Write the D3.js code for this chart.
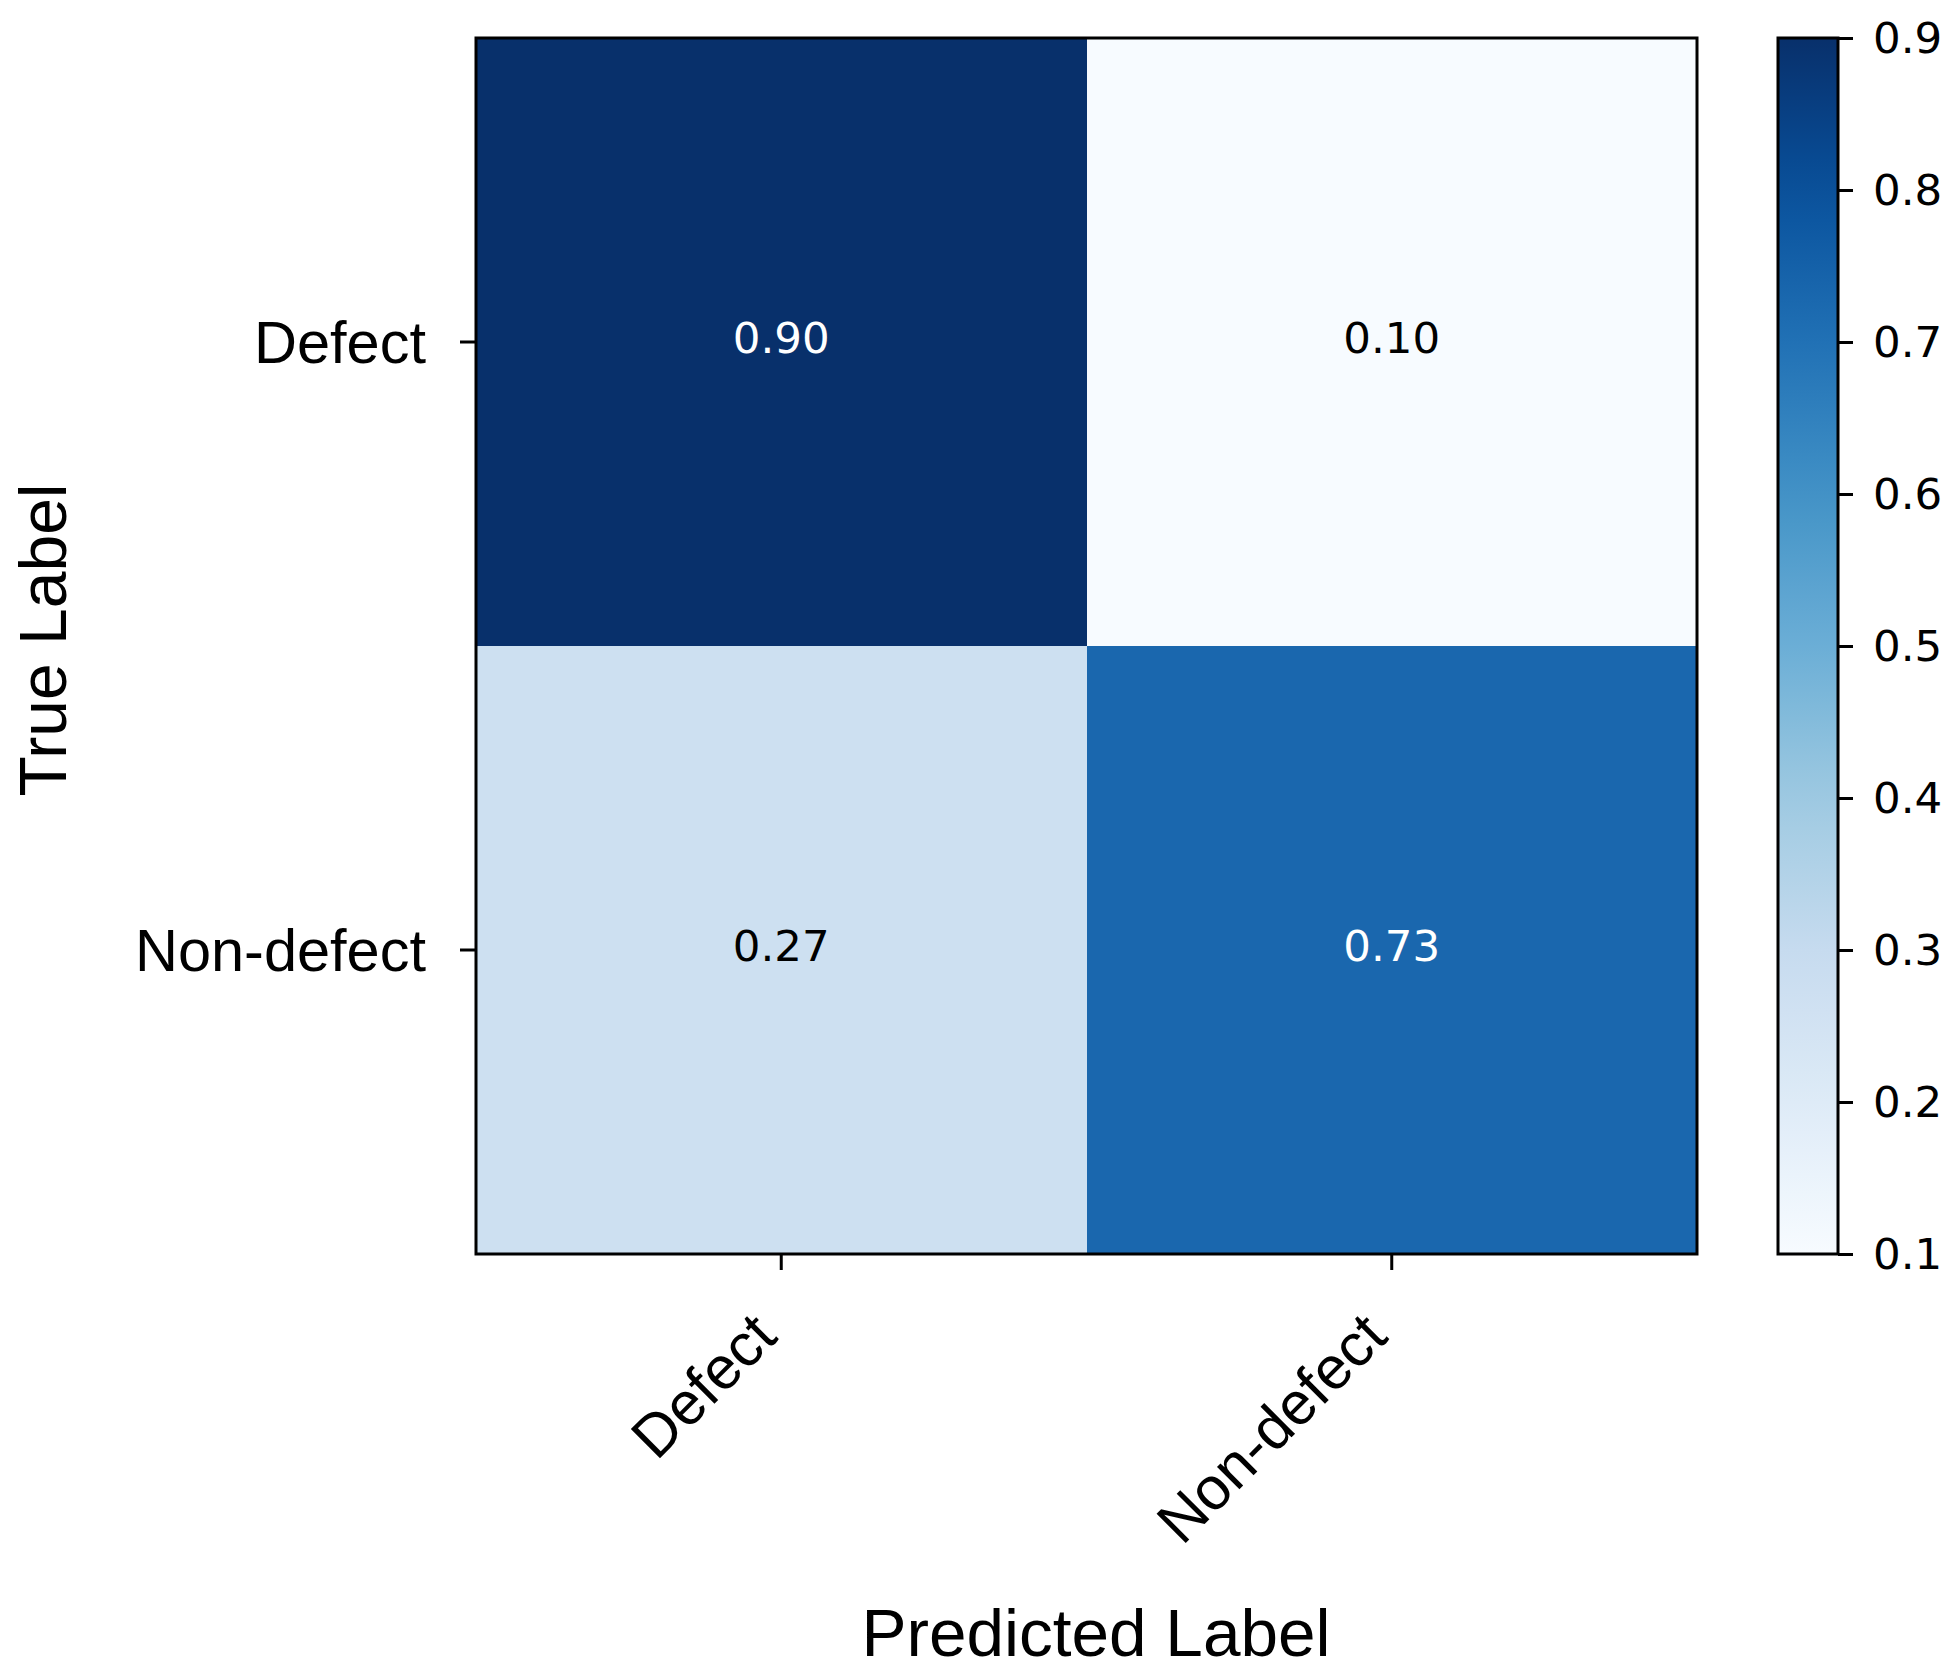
<!DOCTYPE html>
<html>
<head>
<meta charset="utf-8">
<script src="https://cdn.jsdelivr.net/npm/d3@7"></script>
<style>
  html, body { margin: 0; padding: 0; background: #ffffff; }
  svg { display: block; }
</style>
</head>
<body>
<div id="chart"></div>
<script>
// ---- data ----
const trueLabels = ["Defect", "Non-defect"];
const predictedLabels = ["Defect", "Non-defect"];
const rowDefect = [0.90, 0.10];
const rowNonDefect = [0.27, 0.73];
const colorbarTicks = [0.1, 0.2, 0.3, 0.4, 0.5, 0.6, 0.7, 0.8, 0.9];
const xAxisTitle = "Predicted Label";
const yAxisTitle = "True Label";

// matplotlib "Blues" control colours
const bluesStops = ["#f7fbff","#deebf7","#c6dbef","#9ecae1","#6baed6","#4292c6","#2171b5","#08519c","#08306b"];

const matrix = [rowDefect, rowNonDefect];
const cells = [];
matrix.forEach((row, i) => row.forEach((v, j) => cells.push({ t: trueLabels[i], p: predictedLabels[j], v })));

const W = 1954, H = 1674;
const svg = d3.select("#chart").append("svg").attr("width", W).attr("height", H);

const plot = { left: 476, right: 1697, top: 38, bottom: 1254 };
const x = d3.scaleBand().domain(predictedLabels).range([plot.left, plot.right]);
const y = d3.scaleBand().domain(trueLabels).range([plot.top, plot.bottom]);

const vmin = d3.min(cells, d => d.v), vmax = d3.max(cells, d => d.v);
const color = d3.scaleLinear()
  .domain(bluesStops.map((_, i) => vmin + (vmax - vmin) * i / (bluesStops.length - 1)))
  .range(bluesStops)
  .interpolate(d3.interpolateRgb)
  .clamp(true);

const sansHelv = "'Liberation Sans', Arial, Helvetica, sans-serif";
const sansDejavu = "'DejaVu Sans', sans-serif";

// cells
svg.append("g").selectAll("rect").data(cells).join("rect")
  .attr("x", d => x(d.p))
  .attr("y", d => y(d.t))
  .attr("width", x.bandwidth())
  .attr("height", y.bandwidth())
  .attr("fill", d => color(d.v))
  .attr("shape-rendering", "crispEdges");

// cell text
const thresh = (vmin + vmax) / 2;
svg.append("g").selectAll("text").data(cells).join("text")
  .attr("x", d => x(d.p) + x.bandwidth() / 2)
  .attr("y", d => y(d.t) + y.bandwidth() / 2 + 11)
  .attr("text-anchor", "middle")
  .attr("font-family", sansDejavu)
  .attr("font-size", 43.5)
  .attr("fill", d => d.v > thresh ? "#ffffff" : "#000000")
  .text(d => d3.format(".2f")(d.v));

// frame
svg.append("rect")
  .attr("x", plot.left).attr("y", plot.top)
  .attr("width", plot.right - plot.left).attr("height", plot.bottom - plot.top)
  .attr("fill", "none").attr("stroke", "#000").attr("stroke-width", 3);

// x axis
const xAxis = svg.append("g").attr("transform", `translate(0,${plot.bottom})`)
  .call(d3.axisBottom(x).tickSize(16).tickSizeOuter(0).tickFormat(() => ""));
xAxis.select(".domain").remove();
xAxis.selectAll(".tick line").attr("stroke", "#000").attr("stroke-width", 3);
svg.append("g").selectAll("text").data(predictedLabels).join("text")
  .attr("transform", d => `translate(${x(d) + x.bandwidth() / 2 - 2},1339) rotate(-45)`)
  .attr("text-anchor", "end")
  .attr("font-family", sansHelv)
  .attr("font-size", 60)
  .attr("fill", "#000")
  .text(d => d);

// y axis
const yAxis = svg.append("g").attr("transform", `translate(${plot.left},0)`)
  .call(d3.axisLeft(y).tickSize(16).tickSizeOuter(0).tickFormat(() => ""));
yAxis.select(".domain").remove();
yAxis.selectAll(".tick line").attr("stroke", "#000").attr("stroke-width", 3);
svg.append("g").selectAll("text").data(trueLabels).join("text")
  .attr("x", 426)
  .attr("y", d => y(d) + y.bandwidth() / 2 + 21)
  .attr("text-anchor", "end")
  .attr("font-family", sansHelv)
  .attr("font-size", 59.5)
  .attr("fill", "#000")
  .text(d => d);

// axis titles
svg.append("text")
  .attr("x", 1096).attr("y", 1656)
  .attr("text-anchor", "middle")
  .attr("font-family", sansHelv).attr("font-size", 67.5).attr("fill", "#000")
  .text(xAxisTitle);
svg.append("text")
  .attr("transform", `translate(66,640) rotate(-90)`)
  .attr("text-anchor", "middle")
  .attr("font-family", sansHelv).attr("font-size", 66).attr("fill", "#000")
  .text(yAxisTitle);

// colorbar
const cb = { left: 1778, right: 1838, top: 38, bottom: 1254 };
const cy = d3.scaleLinear().domain([vmin, vmax]).range([cb.bottom, cb.top]);
const defs = svg.append("defs");
const grad = defs.append("linearGradient").attr("id", "cbgrad")
  .attr("x1", 0).attr("y1", 1).attr("x2", 0).attr("y2", 0);
grad.selectAll("stop").data(d3.range(0, 1.0001, 0.05)).join("stop")
  .attr("offset", d => d)
  .attr("stop-color", d => color(vmin + d * (vmax - vmin)));
svg.append("rect")
  .attr("x", cb.left).attr("y", cb.top)
  .attr("width", cb.right - cb.left).attr("height", cb.bottom - cb.top)
  .attr("fill", "url(#cbgrad)")
  .attr("stroke", "#000").attr("stroke-width", 3);
const cbAxis = svg.append("g").attr("transform", `translate(${cb.right},0)`)
  .call(d3.axisRight(cy).tickValues(colorbarTicks).tickSize(15).tickSizeOuter(0).tickFormat(() => ""));
cbAxis.select(".domain").remove();
cbAxis.selectAll(".tick line").attr("stroke", "#000").attr("stroke-width", 3);
svg.append("g").selectAll("text").data(colorbarTicks).join("text")
  .attr("x", 1873)
  .attr("y", d => cy(d) + 15)
  .attr("font-family", sansDejavu)
  .attr("font-size", 43.5)
  .attr("fill", "#000")
  .text(d => d3.format(".1f")(d));
</script>
</body>
</html>
